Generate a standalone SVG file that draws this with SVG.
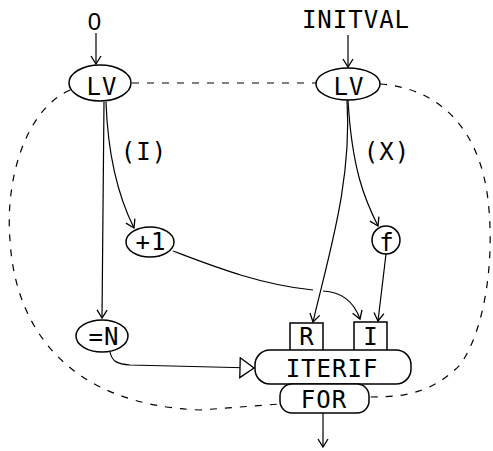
<svg xmlns="http://www.w3.org/2000/svg" width="493" height="451" viewBox="0 0 493 451">
<style>
text{font-family:"DejaVu Sans Mono","Liberation Mono",monospace;font-size:24px;fill:#000;text-anchor:middle;letter-spacing:1px}
.z{font-family:"Liberation Sans","DejaVu Sans",sans-serif}
.n{fill:#fff;stroke:#000;stroke-width:1.5}
.c{fill:none;stroke:#000;stroke-width:1.2}
.d{fill:none;stroke:#000;stroke-width:1.2;stroke-dasharray:7 8}
</style>
<defs>
<marker id="a" markerWidth="12" markerHeight="12" refX="9" refY="6" orient="auto" markerUnits="userSpaceOnUse">
<path d="M1,1 L9,6 L1,11" fill="none" stroke="#000" stroke-width="1.3"/>
</marker>
<marker id="t" markerWidth="18" markerHeight="22" refX="16" refY="11" orient="auto" markerUnits="userSpaceOnUse">
<path d="M2,1 L16,11 L2,21 Z" fill="#fff" stroke="#000" stroke-width="1.3"/>
</marker>
</defs>
<g id="connectors">
<path class="d" d="M132,83 L316,83"/>
<path class="d" d="M70,90 C25,110 5,180 10,240 C15,330 70,405 200,410 L280,404"/>
<path class="d" d="M380,84 C440,88 480,130 488,200 C495,260 485,330 460,365 C430,395 400,397 370,397"/>
<path class="c" d="M96,33 L96,64" marker-end="url(#a)"/>
<path class="c" d="M348,35 L348,67" marker-end="url(#a)"/>
<path class="c" d="M104,102 L102,318" marker-end="url(#a)"/>
<path class="c" d="M106,102 C108,160 120,200 134,228" marker-end="url(#a)"/>
<path class="c" d="M347,100 C352,180 330,250 313,322" marker-end="url(#a)"/>
<path class="c" d="M348,100 C352,170 365,200 378,226" marker-end="url(#a)"/>
<path class="c" d="M386,254 L378,321" marker-end="url(#a)"/>
<path class="c" d="M173,251 C210,265 260,285 313,290"/>
<path class="c" d="M323,291 C345,292 355,305 360,319" marker-end="url(#a)"/>
<path class="c" d="M110,352 C112,362 118,364 130,365 L254,368" marker-end="url(#t)"/>
<path class="c" d="M323,413 L323,447" marker-end="url(#a)"/>
</g>
<g id="zero"><text class="z" x="95" y="30">0</text></g>
<g id="initval"><text x="356" y="28">INITVAL</text></g>
<g id="lv1"><ellipse class="n" cx="100" cy="83" rx="31" ry="18"/><text x="102" y="95">LV</text></g>
<g id="lv2"><ellipse class="n" cx="348" cy="84" rx="32" ry="16"/><text x="349" y="95">LV</text></g>
<g id="labelI"><text x="144" y="160">(I)</text></g>
<g id="labelX"><text x="387" y="160">(X)</text></g>
<g id="plus1"><ellipse class="n" cx="150" cy="242" rx="24" ry="15"/><text x="151" y="250">+1</text></g>
<g id="f"><circle class="n" cx="386" cy="240" r="14"/><text x="387" y="251">f</text></g>
<g id="eqN"><ellipse class="n" cx="102" cy="336" rx="26" ry="16"/><text x="104" y="345">=N</text></g>
<g id="R"><rect class="n" x="290" y="323" width="33" height="28"/><text x="307" y="345">R</text></g>
<g id="I"><rect class="n" x="354" y="322" width="33" height="29"/><text x="371" y="345">I</text></g>
<g id="iterif"><rect class="n" x="255" y="350" width="156" height="34" rx="15"/><text x="332" y="377">ITERIF</text></g>
<g id="for"><rect class="n" x="280" y="384" width="89" height="29" rx="12"/><text x="324" y="408">FOR</text></g>
</svg>
